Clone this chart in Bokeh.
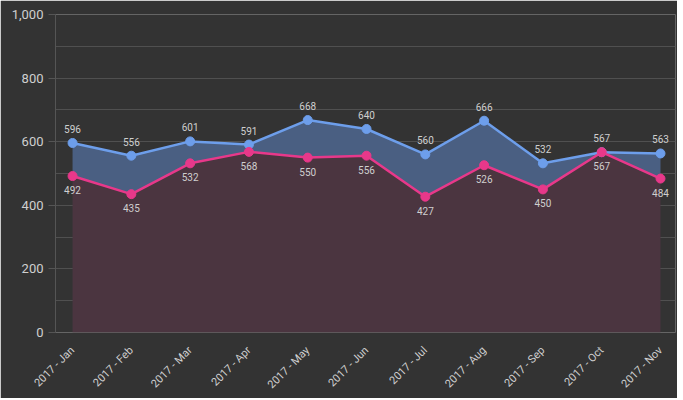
import numpy as np
from bokeh.plotting import figure
from bokeh.models import FixedTicker, ColumnDataSource
from bokeh.core.properties import value
from bokeh.embed import file_html
from bokeh.resources import INLINE

months = ["2017 - Jan", "2017 - Feb", "2017 - Mar", "2017 - Apr", "2017 - May", "2017 - Jun",
          "2017 - Jul", "2017 - Aug", "2017 - Sep", "2017 - Oct", "2017 - Nov"]
blue_vals = [596, 556, 601, 591, 668, 640, 560, 666, 532, 567, 563]
pink_vals = [492, 435, 532, 568, 550, 556, 427, 526, 450, 567, 484]

BG = "#333333"
BLUE = "#6d9eeb"
PINK = "#e8388a"
TXT = "#cfcfcf"
FONT = "Roboto"

x = list(range(len(months)))
src = ColumnDataSource(dict(x=x, b=blue_vals, p=pink_vals,
                            bl=[str(v) for v in blue_vals], pl=[str(v) for v in pink_vals],
                            zero=[0] * len(x)))

p = figure(frame_width=620, frame_height=318, output_backend="svg", toolbar_location=None,
           x_range=(-0.29, 10.255), y_range=(0, 1000),
           min_border_left=55, min_border_right=2, min_border_top=14, min_border_bottom=60,
           background_fill_color=BG, border_fill_color=BG, outline_line_color=None)

p.varea(x="x", y1="zero", y2="p", source=src, fill_color="#4b3540", fill_alpha=1)
p.varea(x="x", y1="p", y2="b", source=src, fill_color="#4a5f82", fill_alpha=1)
p.line(x="x", y="b", source=src, line_color=BLUE, line_width=2.5)
p.line(x="x", y="p", source=src, line_color=PINK, line_width=2.5)
p.scatter(x="x", y="b", source=src, size=9, color=BLUE)
p.scatter(x="x", y="p", source=src, size=9, color=PINK)

p.text(x="x", y="b", text="bl", source=src, y_offset=-10, text_align="center",
       text_baseline="bottom", text_color=TXT, text_font_size="10px", text_font=value(FONT))
p.text(x="x", y="p", text="pl", source=src, y_offset=10, text_align="center",
       text_baseline="top", text_color=TXT, text_font_size="10px", text_font=value(FONT))

p.xaxis.ticker = FixedTicker(ticks=x)
p.xaxis.major_label_overrides = {i: m for i, m in enumerate(months)}
p.xaxis.major_label_orientation = np.pi / 4
p.xaxis.major_label_standoff = 10
p.xaxis.axis_line_color = None
p.xaxis.major_tick_line_color = None
p.xaxis.minor_tick_line_color = None
p.xaxis.major_label_text_color = TXT
p.xaxis.major_label_text_font = FONT
p.xaxis.major_label_text_font_size = "11px"

p.yaxis.ticker = FixedTicker(ticks=[0, 200, 400, 600, 800, 1000], minor_ticks=[100, 300, 500, 700, 900])
p.yaxis.major_label_overrides = {1000: "1,000"}
p.yaxis.axis_line_color = "#555555"
p.yaxis.major_tick_line_color = "#555555"
p.yaxis.major_tick_out = 7
p.yaxis.major_tick_in = 0
p.yaxis.minor_tick_line_color = None
p.yaxis.major_label_text_color = TXT
p.yaxis.major_label_text_font = FONT
p.yaxis.major_label_text_font_size = "13px"

p.xgrid.grid_line_color = None
p.ygrid.grid_line_color = "#505050"
p.ygrid.minor_grid_line_color = "#505050"

open("out.html", "w").write(file_html(p, INLINE))
